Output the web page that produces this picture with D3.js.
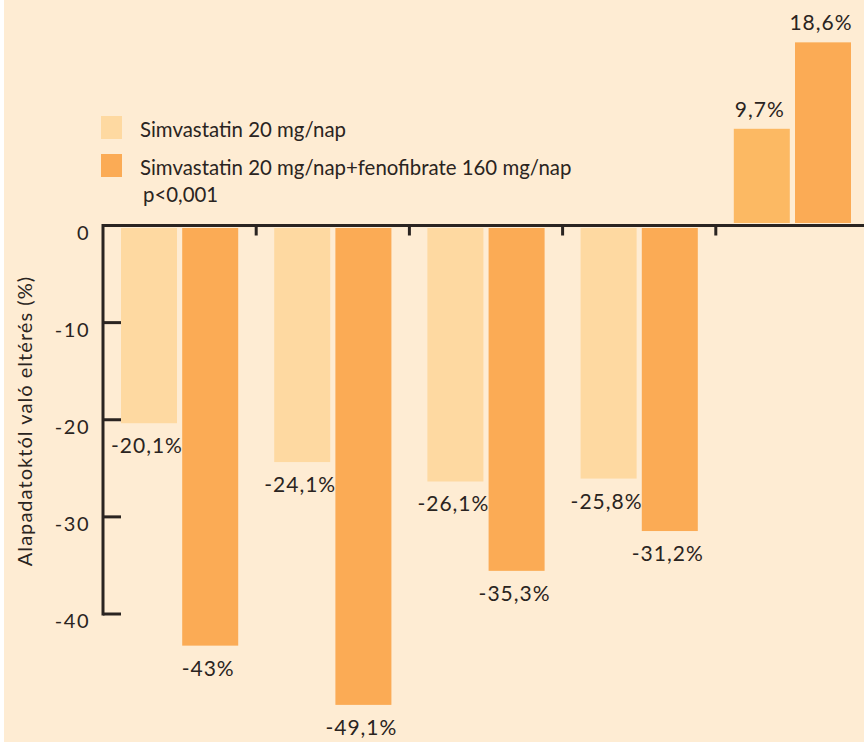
<!DOCTYPE html>
<html>
<head>
<meta charset="utf-8">
<script src="https://cdn.jsdelivr.net/npm/d3@7"></script>
<style>
  html, body { margin: 0; padding: 0; background: #ffffff; }
  svg { display: block; }
  text { font-family: "Lato", "DejaVu Sans", sans-serif; fill: #2a2421; }
</style>
</head>
<body>
<svg id="chart" width="864" height="742"></svg>
<script>
// Groups have no printed names; they only set the bar positions.
const groups = ["1", "2", "3", "4", "5"];
const seriesNames = ["Simvastatin 20 mg/nap", "Simvastatin 20 mg/nap+fenofibrate 160 mg/nap"];
const simvastatin = [-20.1, -24.1, -26.1, -25.8, 9.7];
const combination = [-43, -49.1, -35.3, -31.2, 18.6];
const yTicks = [0, -10, -20, -30, -40];
const yAxisTitle = "Alapadatoktól való eltérés (%)";
const note = "p<0,001";

const colors = { light: "#fed9a1", lightPositive: "#fcb963", dark: "#fbab55" };
const ink = "#2a2421";

const svg = d3.select("#chart");

// cream panel
svg.append("rect").attr("x", 4).attr("y", 0).attr("width", 860).attr("height", 742)
  .attr("fill", "#feecd3");

const x0 = d3.scaleBand().domain(groups).range([103, 869])
  .paddingInner(0.235).paddingOuter(0.1175);
const x1 = d3.scaleBand().domain([0, 1]).range([0, x0.bandwidth()]).paddingInner(0.085);
const y = d3.scaleLinear().domain([0, -40]).range([225.5, 614]);
const gap = 2.5; // bars stand slightly clear of the zero line

const fmt = v => String(v).replace(".", ",") + "%";

const rows = groups.map((g, i) => [
  { g, s: 0, v: simvastatin[i] },
  { g, s: 1, v: combination[i] }
]).flat();

const fillOf = d => d.s === 1 ? colors.dark : (d.v > 0 ? colors.lightPositive : colors.light);

// bars
svg.append("g").selectAll("rect").data(rows).join("rect")
  .attr("x", d => x0(d.g) + x1(d.s))
  .attr("width", x1.bandwidth())
  .attr("y", d => d.v < 0 ? y(0) + gap : y(d.v) - gap)
  .attr("height", d => Math.abs(y(d.v) - y(0)))
  .attr("fill", fillOf);

// value labels
svg.append("g").selectAll("text").data(rows).join("text")
  .attr("x", d => x0(d.g) + x1(d.s) + x1.bandwidth() / 2 - 2)
  .attr("y", d => d.v < 0 ? y(d.v) + gap + 30 : y(d.v) - gap - 12)
  .attr("text-anchor", "middle")
  .attr("font-size", 21)
  .attr("letter-spacing", 1)
  .text(d => fmt(d.v));

// y axis
const axis = svg.append("g").attr("stroke", ink).attr("stroke-width", 3).attr("fill", "none");
axis.append("line").attr("x1", 103).attr("x2", 103).attr("y1", y(0) - 1.5).attr("y2", y(-40) + 1.5);
axis.selectAll("line.tick").data(yTicks.slice(1)).join("line").attr("class", "tick")
  .attr("x1", 103).attr("x2", 121).attr("y1", d => y(d)).attr("y2", d => y(d));
// zero line with group separators
axis.append("line").attr("x1", 103).attr("x2", 864).attr("y1", y(0)).attr("y2", y(0));
axis.selectAll("line.sep").data(groups.slice(1)).join("line").attr("class", "sep")
  .attr("x1", d => x0(d) - x0.step() * x0.paddingInner() / 2)
  .attr("x2", d => x0(d) - x0.step() * x0.paddingInner() / 2)
  .attr("y1", y(0)).attr("y2", y(0) + 10);

svg.append("g").selectAll("text").data(yTicks).join("text")
  .attr("x", 90).attr("y", d => y(d) + 14)
  .attr("text-anchor", "end").attr("font-size", 20)
  .attr("letter-spacing", 1.5)
  .text(d => d === 0 ? "0" : "-" + Math.abs(d));

svg.append("text")
  .attr("transform", "translate(32,421) rotate(-90)")
  .attr("text-anchor", "middle").attr("font-size", 20)
  .attr("letter-spacing", 1.05)
  .text(yAxisTitle);

// legend
const legend = svg.append("g");
[colors.light, colors.dark].forEach((c, i) => {
  legend.append("rect").attr("x", 101).attr("y", 116 + i * 38).attr("width", 21).attr("height", 23)
    .attr("fill", c);
  legend.append("text").attr("x", 140).attr("y", 137 + i * 37.5).attr("font-size", 20.4)
    .text(seriesNames[i]);
});
legend.append("text").attr("x", 143).attr("y", 202).attr("font-size", 20.4).text(note);
</script>
</body>
</html>
